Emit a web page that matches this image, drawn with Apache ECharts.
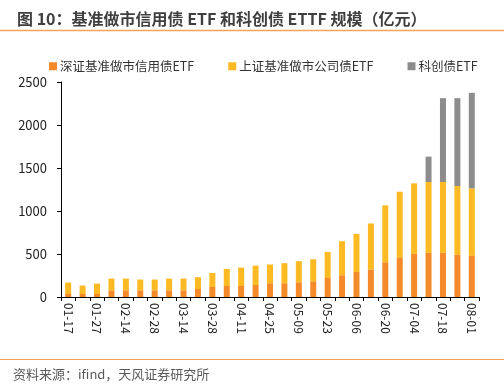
<!DOCTYPE html>
<html><head><meta charset="utf-8">
<script src="https://cdn.jsdelivr.net/npm/echarts@6/dist/echarts.min.js"></script>
<style>html,body{margin:0;padding:0;background:#fff}#c{width:504px;height:387px}</style>
</head><body><div id="c"></div>
<script>
const categories = ['01-17','01-24','01-27','02-07','02-14','02-21','02-28','03-07','03-14','03-21','03-28','04-03','04-11','04-18','04-25','04-30','05-09','05-16','05-23','05-30','06-06','06-13','06-20','06-27','07-04','07-11','07-18','07-25','08-01'];
const szData = [35,35,35,78,78,78,78,78,78,93,117,128,128,140,160,160,171,183,221,253,291,319,404,462,501,513,513,490,478];
const shData = [133,98,121,136,136,125,125,136,136,137,163,198,214,224,218,233,245,256,303,396,443,536,661,762,821,824,824,800,785];
const kcData = [0,0,0,0,0,0,0,0,0,0,0,0,0,0,0,0,0,0,0,0,0,0,0,0,0,295,975,1022,1111];
const seriesNames = ['深证基准做市信用债ETF','上证基准做市公司债ETF','科创债ETF'];
const yTicks = [0,500,1000,1500,2000,2500];

const font = '"Noto Sans CJK SC","Microsoft YaHei",sans-serif';
const chart = echarts.init(document.getElementById('c'));
const colors = ['#F58A2A','#FDBA22','#8C8C8C'];
chart.setOption({
  animation:false,
  textStyle:{fontFamily:font},
  title:{text:'图 10：基准做市信用债 ETF 和科创债 ETTF 规模（亿元）',left:12,top:6,
    textStyle:{fontSize:16,fontWeight:'bold',color:'#3F3F3F',fontFamily:font}},
  graphic:[
    {type:'line',shape:{x1:0,y1:30.5,x2:504,y2:30.5},style:{stroke:'#F5A25D',lineWidth:1.5}},
    {type:'line',shape:{x1:0,y1:359.5,x2:504,y2:359.5},style:{stroke:'#F5A25D',lineWidth:1.2}},
    {type:'text',left:13,top:368,style:{text:'资料来源：ifind，天风证券研究所',fill:'#5a5a5a',font:'13px '+font}}
  ],
  legend:{top:55,left:44,itemWidth:8,itemHeight:8,itemGap:34,icon:'rect',
    textStyle:{fontSize:12.5,color:'#333',fontFamily:font,padding:[0,0,0,-2]},
    data:seriesNames},
  grid:{left:61,right:25,top:82,bottom:90},
  xAxis:{type:'category',data:categories,
    axisLine:{lineStyle:{color:'#000',width:1}},
    axisTick:{show:true,alignWithLabel:false,interval:0,length:4,lineStyle:{color:'#000'}},
    axisLabel:{interval:1,rotate:-90,fontSize:12,color:'#222',margin:6,fontFamily:font}},
  yAxis:{type:'value',min:yTicks[0],max:yTicks[yTicks.length-1],interval:500,
    axisLine:{show:true,lineStyle:{color:'#000'}},
    axisTick:{show:true,length:4,lineStyle:{color:'#000'}},
    splitLine:{show:false},
    axisLabel:{fontSize:13,color:'#222',margin:14,fontFamily:font,formatter:v=>String(v)}},
  series:[
    {name:seriesNames[0],type:'bar',stack:'a',data:szData,barWidth:6,itemStyle:{color:colors[0]}},
    {name:seriesNames[1],type:'bar',stack:'a',data:shData,barWidth:6,itemStyle:{color:colors[1]}},
    {name:seriesNames[2],type:'bar',stack:'a',data:kcData,barWidth:6,itemStyle:{color:colors[2]}}
  ]
});
</script></body></html>
